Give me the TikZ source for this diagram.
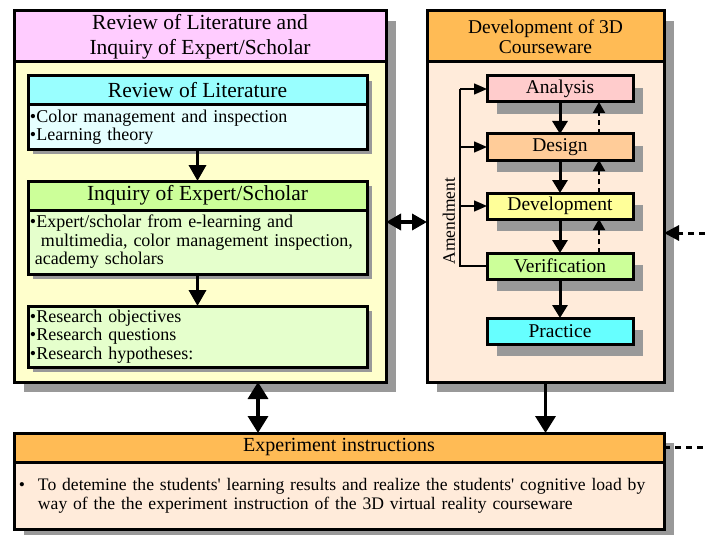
\documentclass[tikz,border=0pt]{standalone}
\usepackage{fontspec}
\setmainfont{Liberation Serif}[Ligatures=TeXOff]
\usetikzlibrary{arrows.meta,shadows}

\definecolor{shadowgray}{HTML}{999999}
\definecolor{pinkhead}{HTML}{FFCCFF}
\definecolor{litbody}{HTML}{FFFFCC}
\definecolor{cyanhead}{HTML}{99FFFF}
\definecolor{cyanbody}{HTML}{E5FFFF}
\definecolor{greenhead}{HTML}{CCFF99}
\definecolor{greenbody}{HTML}{E5FFCC}
\definecolor{orangehead}{HTML}{FFBB55}
\definecolor{peachbody}{HTML}{FFEBDA}
\definecolor{anafill}{HTML}{FFCCCC}
\definecolor{desfill}{HTML}{FFCC99}
\definecolor{devfill}{HTML}{FFFF99}
\definecolor{verfill}{HTML}{CCFF99}
\definecolor{pracfill}{HTML}{66FFFF}

\tikzset{
  frame/.style={draw, line width=3pt, rectangle, inner sep=0pt, outer sep=0pt,
                anchor=north west, align=center},
  bigshade/.style={drop shadow={shadow xshift=10pt, shadow yshift=-10pt,
                   fill=shadowgray, opacity=1}},
  smallshade/.style={drop shadow={shadow xshift=5pt, shadow yshift=-5pt,
                     fill=shadowgray, opacity=1}},
  stageshade/.style={drop shadow={shadow xshift=10pt, shadow yshift=-12pt,
                     fill=shadowgray, opacity=1}},
  bigtitle/.style={font=\fontsize{21.5}{25}\selectfont},
  subtitle/.style={font=\fontsize{21.5}{24}\selectfont},
  bodytext/.style={font=\fontsize{18}{18.5}\selectfont, align=left,
                   inner xsep=2pt, text width=335pt},
  stagebox/.style={frame, stageshade, minimum width=146pt, minimum height=26pt,
                   font=\fontsize{19.5}{20}\selectfont},
  flowarrow/.style={line width=3pt, -{Triangle[length=13pt,width=15pt]}},
  leftarrow/.style={line width=3.5pt, -{Triangle[length=16pt,width=17pt]}},
  backarrow/.style={line width=2pt, dash pattern=on 5pt off 4pt,
                    -{Triangle[length=11pt,width=12pt]}},
  amendline/.style={line width=1.5pt},
  amendarrow/.style={line width=1.5pt, -{Triangle[length=13pt,width=11pt]}},
  linkboth/.style={line width=3.5pt,
                   {Triangle[length=15pt,width=16pt]}-{Triangle[length=15pt,width=16pt]}},
  linkdown/.style={line width=3.5pt, -{Triangle[length=17pt,width=20pt]}},
  vlinkboth/.style={line width=3.5pt,
                   {Triangle[length=17pt,width=20pt]}-{Triangle[length=17pt,width=20pt]}},
  feedin/.style={line width=3pt, dash pattern=on 6pt off 5pt,
                 -{Triangle[length=15pt,width=15pt]}},
  feedout/.style={line width=3pt, dash pattern=on 6pt off 5pt},
}

\begin{document}
\begin{tikzpicture}[x=1pt,y=-1pt]
\useasboundingbox (0,0) rectangle (705,535);

% ---------- left column: literature and expert inquiry ----------
\node[frame, bigshade, fill=pinkhead, bigtitle, minimum width=372pt, minimum height=51pt]
  (litHead) at (14,11) {Review of Literature and\\Inquiry of Expert/Scholar};
\node[frame, bigshade, fill=litbody, minimum width=372pt, minimum height=320pt]
  (litBody) at (litHead.south west) {};

\node[frame, smallshade, fill=cyanhead, subtitle, minimum width=339pt, minimum height=29pt]
  (revHead) at (28,76) {Review of Literature};
\node[frame, smallshade, fill=cyanbody, bodytext, minimum width=339pt, minimum height=44pt]
  (revBody) at (revHead.south west)
  {•Color management and inspection\\•Learning theory};

\node[frame, smallshade, fill=greenhead, subtitle, minimum width=339pt, minimum height=29pt]
  (inqHead) at (28,181) {Inquiry of Expert/Scholar};
\node[frame, smallshade, fill=greenbody, bodytext, minimum width=339pt, minimum height=64pt]
  (inqBody) at (inqHead.south west)
  {•Expert/scholar from e-learning and\\
   \hspace*{11pt}multimedia, color management inspection,\\
   \hspace*{5pt}academy scholars};

\node[frame, smallshade, fill=greenbody, bodytext, minimum width=339pt, minimum height=61pt]
  (resBox) at (28,306)
  {•Research objectives\\•Research questions\\•Research hypotheses:};

\draw[leftarrow] (revBody.south) -- (inqHead.north);
\draw[leftarrow] (inqBody.south) -- (resBox.north);

% ---------- right column: courseware development ----------
\node[frame, bigshade, fill=orangehead, font=\fontsize{19.5}{20}\selectfont,
      minimum width=237pt, minimum height=51pt]
  (devHead) at (427,11) {Development of 3D\\Courseware};
\node[frame, bigshade, fill=peachbody, minimum width=237pt, minimum height=320pt]
  (devBody) at (devHead.south west) {};

\node[stagebox, fill=anafill]  (ana)  at (487,76)  {Analysis};
\node[stagebox, fill=desfill]  (des)  at (487,134) {Design};
\node[stagebox, fill=devfill]  (dvl)  at (487,193) {Development};
\node[stagebox, fill=verfill]  (ver)  at (487,253) {Verification};
\node[stagebox, fill=pracfill] (prac) at (487,318) {Practice};

\draw[flowarrow] (ana.south) -- (des.north);
\draw[flowarrow] (des.south) -- (dvl.north);
\draw[flowarrow] (dvl.south) -- (ver.north);
\draw[flowarrow] (ver.south) -- (prac.north);

\draw[backarrow] ([xshift=39pt]des.north) -- ([xshift=39pt]ana.south);
\draw[backarrow] ([xshift=39pt]dvl.north) -- ([xshift=39pt]des.south);
\draw[backarrow] ([xshift=39pt]ver.north) -- ([xshift=39pt]dvl.south);

% amendment feedback loop
\coordinate (amx) at (460,0);
\draw[amendline] (ver.west) -- (ver.west -| amx) -- (ana.west -| amx);
\draw[amendarrow] (ana.west -| amx) -- (ana.west);
\draw[amendarrow] (des.west -| amx) -- (des.west);
\draw[amendarrow] (dvl.west -| amx) -- (dvl.west);
\node[rotate=90, font=\fontsize{17.5}{18}\selectfont, inner sep=0pt]
  (amendLabel) at (449,221) {Amendment};

% ---------- bottom: experiment instructions ----------
\node[frame, bigshade, fill=orangehead, font=\fontsize{20}{20}\selectfont,
      minimum width=650pt, minimum height=29pt]
  (expHead) at (14,433) {Experiment instructions};
\node[frame, bigshade, fill=peachbody, font=\fontsize{17.6}{19}\selectfont,
      minimum width=650pt, minimum height=67pt, inner xsep=5pt, text width=640pt,
      align=left]
  (expBody) at (expHead.south west)
  {\makebox[19pt][l]{•}\parbox[t]{620pt}{To detemine the students' learning results and realize the students' cognitive load by\\
   way of the the experiment instruction of the 3D virtual reality courseware}};

% ---------- links between the blocks ----------
\draw[linkboth] (litBody.east) -- (devBody.west);

\coordinate (rightIn) at (705,233);
\draw[feedin] (rightIn) -- (devBody.east |- rightIn);

\coordinate (vx) at (258,0);
\draw[vlinkboth] (litBody.south -| vx) -- (expHead.north -| vx);
\draw[linkdown] (devBody.south) -- (expHead.north -| devBody.south);

\coordinate (rightOut) at (705,447.5);
\draw[feedout] (expHead.east) -- (rightOut);
\end{tikzpicture}
\end{document}
